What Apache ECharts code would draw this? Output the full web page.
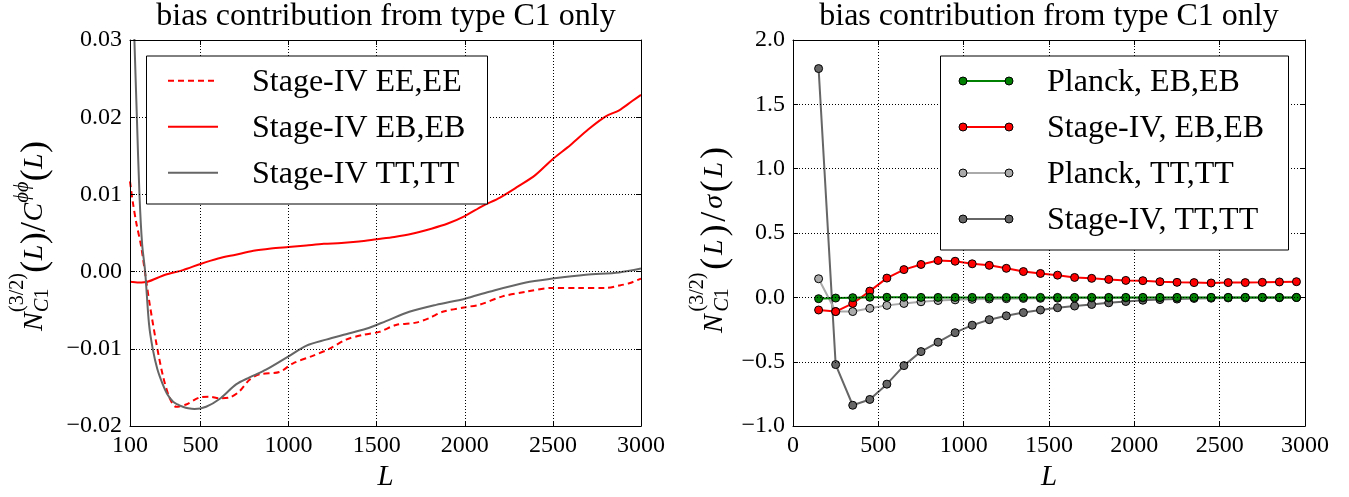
<!DOCTYPE html>
<html>
<head>
<meta charset="utf-8">
<title>bias contribution from type C1 only</title>
<script src="https://cdn.jsdelivr.net/npm/echarts@6/dist/echarts.min.js"></script>
<style>
  html, body { margin: 0; padding: 0; background: #fff; }
  #chart { width: 1349px; height: 497px; }
</style>
</head>
<body>
<div id="chart"></div>
<script>
// ---------- left panel: N_C1^(3/2)(L) / C^phiphi(L) ----------
const eeL  = [100, 116, 135, 163, 192, 211, 249, 286, 324, 362, 419, 494, 551, 608, 664, 721, 778, 835, 948, 1023, 1137, 1231, 1326, 1420, 1515, 1610, 1723, 1799, 1874, 2001, 2082, 2214, 2347, 2498, 2650, 2800, 2876, 2933, 3000];
const eeV  = [0.0117, 0.0090, 0.0064, 0.0033, -0.0012, -0.0041, -0.0092, -0.0134, -0.0163, -0.0175, -0.0172, -0.0163, -0.0162, -0.0164, -0.0163, -0.0155, -0.0140, -0.0133, -0.0130, -0.0119, -0.0109, -0.0100, -0.0088, -0.0082, -0.0078, -0.0069, -0.0066, -0.0060, -0.0052, -0.0046, -0.0043, -0.0032, -0.0026, -0.0021, -0.0021, -0.0021, -0.0018, -0.0015, -0.0009];

const ebL  = [100, 150, 200, 300, 400, 500, 600, 700, 800, 900, 1000, 1100, 1200, 1300, 1400, 1500, 1600, 1700, 1800, 1900, 2000, 2100, 2200, 2300, 2400, 2500, 2600, 2700, 2800, 2876, 2950, 3000];
const ebV  = [-0.0013, -0.0014, -0.0013, -0.0004, 0.0002, 0.0010, 0.0017, 0.0022, 0.0027, 0.0030, 0.0032, 0.0034, 0.0036, 0.0037, 0.0039, 0.0042, 0.0045, 0.0049, 0.0055, 0.0062, 0.0072, 0.0085, 0.0096, 0.0110, 0.0125, 0.0146, 0.0164, 0.0184, 0.0201, 0.0209, 0.0221, 0.0229];

const ttL  = [100, 112, 125, 139, 154, 169, 186, 208, 229, 255, 286, 310, 343, 370, 400, 430, 466, 532, 608, 702, 778, 872, 1005, 1099, 1213, 1326, 1440, 1553, 1685, 1837, 2001, 2139, 2347, 2498, 2687, 2876, 3000];
const ttV  = [0.050, 0.040, 0.030, 0.020, 0.0098, 0.0035, 0.0000, -0.0068, -0.0100, -0.0126, -0.0146, -0.0158, -0.0168, -0.0172, -0.0175, -0.0177, -0.0178, -0.0175, -0.0165, -0.0146, -0.0137, -0.0127, -0.0109, -0.0096, -0.0088, -0.0081, -0.0074, -0.0064, -0.0052, -0.0043, -0.0035, -0.0026, -0.0014, -0.0009, -0.0004, -0.0001, 0.0004];

const leftXTicks = [100, 500, 1000, 1500, 2000, 2500, 3000];

// ---------- right panel: N_C1^(3/2)(L) / sigma(L) ----------
const binL = [150, 250, 350, 450, 550, 650, 750, 850, 950, 1050, 1150, 1250, 1350, 1450, 1550, 1650, 1750, 1850, 1950, 2050, 2150, 2250, 2350, 2450, 2550, 2650, 2750, 2850, 2950];
const planckEB  = [-0.010, -0.005, -0.002, 0.001, 0.001, 0.001, 0.000, 0.000, 0.000, 0.000, 0.000, 0.000, 0.000, 0.000, 0.000, 0.000, 0.000, 0.000, 0.000, 0.000, 0.000, 0.000, 0.000, 0.000, 0.000, 0.000, 0.000, 0.000, 0.000];
const stageEB   = [-0.098, -0.110, -0.047, 0.049, 0.150, 0.216, 0.256, 0.287, 0.281, 0.261, 0.249, 0.226, 0.201, 0.186, 0.173, 0.155, 0.148, 0.140, 0.132, 0.130, 0.122, 0.117, 0.115, 0.112, 0.115, 0.115, 0.117, 0.120, 0.122];
const planckTT  = [0.145, -0.110, -0.110, -0.085, -0.062, -0.047, -0.034, -0.024, -0.019, -0.015, -0.012, -0.010, -0.008, -0.007, -0.006, -0.005, -0.004, -0.004, -0.003, -0.003, -0.002, -0.002, -0.002, -0.001, -0.001, -0.001, -0.001, -0.001, -0.001];
const stageTT   = [1.778, -0.522, -0.838, -0.793, -0.674, -0.530, -0.421, -0.348, -0.274, -0.216, -0.173, -0.143, -0.118, -0.098, -0.080, -0.067, -0.055, -0.042, -0.032, -0.022, -0.017, -0.013, -0.008, -0.006, -0.004, -0.003, -0.002, -0.002, -0.001];

const titleText = 'bias contribution from type C1 only';
const leftLegend  = ['Stage-IV EE,EE', 'Stage-IV EB,EB', 'Stage-IV TT,TT'];
const rightLegend = ['Planck, EB,EB', 'Stage-IV, EB,EB', 'Planck, TT,TT', 'Stage-IV, TT,TT'];

// ---------- styling ----------
const FONT = '"Liberation Serif", "Times New Roman", serif';
const RED = '#ff0000', GREEN = '#008000', LIGHT = '#aaaaaa', DARK = '#666666', TTGRAY = '#666666';

const zip = (xs, ys) => xs.map((x, i) => [x, ys[i]]);
const fmt = d => v => (Math.abs(v) < 1e-9 ? (0).toFixed(d) : v.toFixed(d)).replace('-', '\u2212');
const plain = v => String(Math.round(v));

const gridLine  = { show: true, lineStyle: { color: '#000', width: 1, type: [1, 2] } };
const frameLine = { show: true, onZero: false, lineStyle: { color: '#000', width: 1 } };
const tickIn    = { show: true, inside: true, length: 5, lineStyle: { color: '#000', width: 1 } };
const tickLabel = { color: '#000', fontFamily: FONT, fontSize: 24, margin: 8 };
const nameStyle = { color: '#000', fontFamily: FONT, fontSize: 29, fontStyle: 'italic' };

function xPair(grid, min, max, interval, ticks) {
  const tick = ticks ? Object.assign({}, tickIn, { customValues: ticks }) : tickIn;
  const lab  = Object.assign({}, tickLabel, { formatter: plain }, ticks ? { customValues: ticks } : {});
  return [
    { gridIndex: grid, type: 'value', position: 'bottom', min, max, interval,
      axisLine: frameLine, axisTick: tick, axisLabel: lab, splitLine: gridLine,
      name: 'L', nameLocation: 'middle', nameGap: 33, nameTextStyle: nameStyle, z: 5 },
    { gridIndex: grid, type: 'value', position: 'top', min, max, interval,
      axisLine: frameLine, axisTick: tick, axisLabel: { show: false }, splitLine: { show: false }, z: 5 }
  ];
}
function yPair(grid, min, max, interval, digits) {
  return [
    { gridIndex: grid, type: 'value', position: 'left', min, max, interval,
      axisLine: frameLine, axisTick: tickIn,
      axisLabel: Object.assign({}, tickLabel, { formatter: fmt(digits) }),
      splitLine: gridLine, z: 5 },
    { gridIndex: grid, type: 'value', position: 'right', min, max, interval,
      axisLine: frameLine, axisTick: tickIn, axisLabel: { show: false }, splitLine: { show: false }, z: 5 }
  ];
}

// ---------- typeset axis titles (rotated, with sub/superscripts) ----------
const measureCtx = document.createElement('canvas').getContext('2d');
const It = (t, s, dy) => ({ t, s, it: true, dy: dy || 0 });
const Rm = (t, s, dy) => ({ t, s, it: false, dy: dy || 0 });
function pieceWidth(p) {
  measureCtx.font = (p.it ? 'italic ' : '') + p.s + 'px ' + FONT;
  return measureCtx.measureText(p.t).width;
}
function textEl(p, x) {
  return { type: 'text', x: x, y: p.dy - 0.305 * p.s, silent: true,
    style: { text: p.t, fontFamily: FONT, fontSize: p.s, fontStyle: p.it ? 'italic' : 'normal',
             fill: '#000', align: 'left', verticalAlign: 'middle' } };
}
// tokens are laid out along the reading direction; spare length is shared out between them
function mathLabel(tokens, cx, cy, length) {
  const widths = tokens.map(tk => tk.stack
    ? Math.max(...tk.stack.map(row => row.reduce((w, p) => w + pieceWidth(p), 0)))
    : pieceWidth(tk));
  const natural = widths.reduce((a, b) => a + b, 0);
  const gap = Math.max(0, (length - natural) / (tokens.length - 1));
  const children = [];
  let x = -length / 2;
  tokens.forEach((tk, i) => {
    if (tk.stack) {
      tk.stack.forEach(row => {
        let rx = x;
        row.forEach(p => { children.push(textEl(p, rx)); rx += pieceWidth(p); });
      });
    } else {
      children.push(textEl(tk, x));
    }
    x += widths[i] + gap;
  });
  return { type: 'group', x: cx, y: cy, rotation: Math.PI / 2, children, z: 20 };
}
const nStack = [It('N', 28), { stack: [[Rm('(3/2)', 20, -19)], [It('C', 20, 6), Rm('1', 20, 6)]] }];
const parenL = [Rm('(', 36, 4), It('L', 28), Rm(')', 36, 4)];
const leftYTitle  = nStack.concat(parenL, [Rm('/', 36, 4), It('C', 28), It('\u03d5\u03d5', 20, -14)], parenL);
const rightYTitle = nStack.concat(parenL, [Rm('/', 36, 4), It('\u03c3', 28)], parenL);

// ---------- legend boxes ----------
function legendBox(box, rows, textX, lineX1, lineX2, items) {
  const els = [{ type: 'rect', shape: { x: box[0], y: box[1], width: box[2], height: box[3] },
                 style: { fill: '#fff', stroke: '#000', lineWidth: 1 }, z: 20 }];
  items.forEach((it, i) => {
    const y = rows[i];
    els.push({ type: 'line', shape: { x1: lineX1, y1: y, x2: lineX2, y2: y }, z: 21,
               style: { stroke: it.color, lineWidth: 2, lineDash: it.dash || null } });
    if (it.marker) {
      [lineX1, lineX2].forEach(cx => els.push({ type: 'circle', shape: { cx, cy: y, r: 4 }, z: 22,
        style: { fill: it.color, stroke: '#000', lineWidth: 1 } }));
    }
    els.push({ type: 'text', x: textX, y: y + 1.5, z: 22,
               style: { text: it.name, fontFamily: FONT, fontSize: 32, fill: '#000', align: 'left', verticalAlign: 'middle' } });
  });
  return els;
}

const lineSeries = (name, xs, ys, color, dash) => ({
  name, type: 'line', xAxisIndex: 0, yAxisIndex: 0, data: zip(xs, ys),
  symbol: 'none', smooth: 0.3, clip: true,
  lineStyle: { color, width: 2, type: dash || 'solid' }, emphasis: { disabled: true }
});
const markSeries = (name, ys, color) => ({
  name, type: 'line', xAxisIndex: 2, yAxisIndex: 2, data: zip(binL, ys),
  symbol: 'circle', symbolSize: 8, showSymbol: true, clip: true,
  lineStyle: { color, width: 2 },
  itemStyle: { color, borderColor: '#000', borderWidth: 1 }, emphasis: { disabled: true }
});

const chart = echarts.init(document.getElementById('chart'));
chart.setOption({
  animation: false,
  backgroundColor: '#fff',
  textStyle: { fontFamily: FONT, color: '#000' },
  title: [
    { text: titleText, left: 386, top: 1, padding: 0, textAlign: 'center',
      textStyle: { fontFamily: FONT, fontWeight: 'normal', fontSize: 32, color: '#000' } },
    { text: titleText, left: 1049, top: 1, padding: 0, textAlign: 'center',
      textStyle: { fontFamily: FONT, fontWeight: 'normal', fontSize: 32, color: '#000' } }
  ],
  grid: [
    { left: 130, top: 40, width: 511, height: 396 },
    { left: 793, top: 40, width: 512, height: 396 }
  ],
  xAxis: xPair(0, 100, 3000, 500, leftXTicks).concat(xPair(1, 0, 3000, 500, null)),
  yAxis: yPair(0, -0.02, 0.03, 0.01, 2).concat(yPair(1, -1, 2, 0.5, 1)),
  series: [
    lineSeries(leftLegend[0], eeL, eeV, RED, [6, 4]),
    lineSeries(leftLegend[1], ebL, ebV, RED),
    lineSeries(leftLegend[2], ttL, ttV, TTGRAY),
    markSeries(rightLegend[3], stageTT, DARK),
    markSeries(rightLegend[2], planckTT, LIGHT),
    markSeries(rightLegend[1], stageEB, RED),
    markSeries(rightLegend[0], planckEB, GREEN)
  ],
  graphic: { elements: [
    mathLabel(leftYTitle, 43, 236, 190),
    mathLabel(rightYTitle, 723, 240, 186),
    ...legendBox([146.5, 56, 341, 148], [80.7, 126.7, 172.7], 252, 168, 218, [
      { name: leftLegend[0], color: RED, dash: [6, 4] },
      { name: leftLegend[1], color: RED },
      { name: leftLegend[2], color: TTGRAY }
    ]),
    ...legendBox([940.5, 56, 348, 194], [81, 127, 173, 219], 1047, 963, 1009, [
      { name: rightLegend[0], color: GREEN, marker: true },
      { name: rightLegend[1], color: RED, marker: true },
      { name: rightLegend[2], color: LIGHT, marker: true },
      { name: rightLegend[3], color: DARK, marker: true }
    ])
  ] }
});
</script>
</body>
</html>
